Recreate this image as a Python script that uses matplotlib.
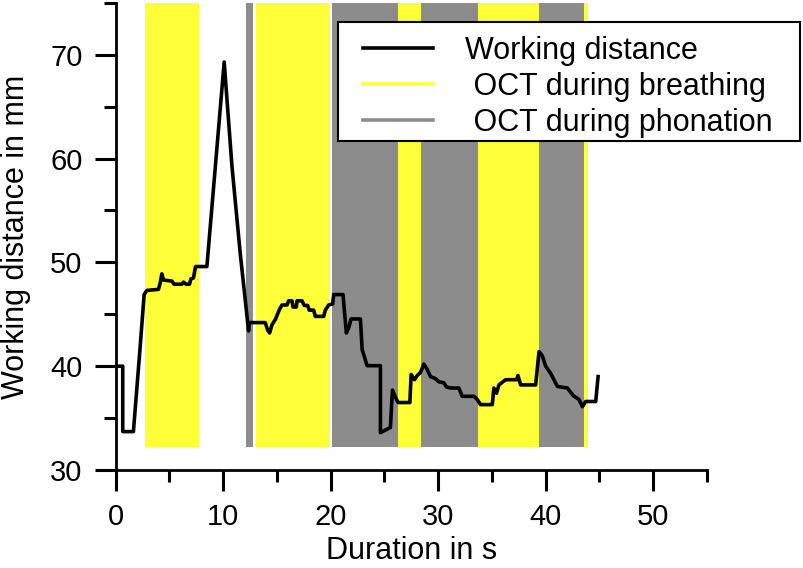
import matplotlib
matplotlib.use('Agg')
import matplotlib.pyplot as plt
from matplotlib.lines import Line2D
from matplotlib.patches import Rectangle
from matplotlib.ticker import MultipleLocator

plt.rcParams['font.family'] = ['Liberation Sans', 'DejaVu Sans']

# working distance trace (s, mm)
time_s = [0.0, 0.65, 0.65, 1.64, 2.2, 2.64, 2.89, 3.97, 4.13, 4.29, 4.44, 5.22, 5.43,
          6.15, 6.3, 6.55, 6.86, 6.99, 7.23, 7.42, 8.48, 10.09, 10.81, 11.58, 12.36,
          12.42, 13.91, 14.13, 14.32, 14.54, 14.85, 15.25, 15.47, 15.94, 16.09, 16.4,
          16.5, 16.8, 16.87, 17.33, 17.55, 17.86, 18.0, 18.42, 18.57, 19.35, 19.5,
          19.82, 20.19, 20.28, 21.15, 21.46, 21.68, 21.9, 22.77, 22.93, 23.23, 23.39,
          24.63, 24.63, 25.56, 25.75, 26.03, 26.28, 27.37, 27.49, 27.8, 28.05, 28.36,
          28.67, 28.98, 29.29, 29.76, 30.07, 30.53, 30.78, 31.16, 31.93, 32.09, 32.24,
          33.33, 33.64, 33.95, 35.04, 35.19, 35.44, 35.66, 36.28, 37.31, 37.43, 37.68,
          39.08, 39.39, 39.7, 40.01, 40.48, 40.78, 41.1, 42.03, 42.59, 43.11, 43.43,
          43.74, 44.67, 44.89]
distance_mm = [40.0, 40.0, 33.7, 33.7, 40.95, 46.9, 47.3, 47.4, 48.0, 48.9, 48.3, 48.2, 47.9,
               47.9, 48.1, 47.9, 47.9, 48.4, 48.5, 49.6, 49.6, 69.3, 59.3, 50.9, 43.4,
               44.2, 44.2, 43.5, 43.2, 44.0, 44.5, 45.5, 45.9, 45.9, 46.3, 46.3,
               45.7, 45.7, 46.3, 46.3, 45.85, 45.85, 45.4, 45.4, 44.8, 44.8, 45.4,
               45.9, 46.0, 46.9, 46.9, 43.2, 43.7, 44.55, 44.55, 41.6, 40.6, 40.05,
               40.05, 33.6, 34.1, 37.7, 37.0, 36.5, 36.5, 39.2, 38.7, 39.1, 39.4,
               40.2, 39.7, 39.0, 38.8, 38.5, 38.4, 38.0, 37.9, 37.9, 37.5, 37.1,
               37.1, 36.8, 36.3, 36.3, 37.9, 37.4, 38.2, 38.7, 38.7, 39.1, 38.2,
               38.2, 41.4, 41.0, 40.0, 39.3, 38.7, 38.05, 37.9, 37.15, 36.8, 36.1,
               36.6, 36.6, 39.0]

# OCT intervals (start, end) in s
breathing = [(2.73, 7.70), (13.05, 19.91), (26.24, 28.42), (33.73, 39.39), (43.58, 43.99)]
phonation = [(12.08, 12.77), (20.09, 26.24), (28.45, 33.73), (39.39, 43.58)]
band_low, band_high = 32.2, 75.0

yellow = '#ffff3a'
grey = '#8c8c8c'

fig = plt.figure(figsize=(8.04, 5.68), dpi=100)
ax = fig.add_axes([0.144, 0.1725, 0.735, 0.8225])

# shaded bands
for start, end in breathing:
    ax.bar(start, band_high - band_low, width=end - start, bottom=band_low,
           align='edge', color=yellow, linewidth=0)
for start, end in phonation:
    ax.bar(start, band_high - band_low, width=end - start, bottom=band_low,
           align='edge', color=grey, linewidth=0)

# working distance
ax.plot(time_s, distance_mm, color='black', linewidth=2.6)

ax.set_xlim(0, 55)
ax.set_ylim(30, 75)
ax.xaxis.set_major_locator(MultipleLocator(10))
ax.xaxis.set_minor_locator(MultipleLocator(5))
ax.yaxis.set_major_locator(MultipleLocator(10))
ax.yaxis.set_minor_locator(MultipleLocator(5))

for side in ['top', 'right']:
    ax.spines[side].set_visible(False)
for side in ['left', 'bottom']:
    ax.spines[side].set_linewidth(2.0)

ax.tick_params(which='major', direction='out', length=15, width=2.2,
               labelsize=21, pad=9)
ax.tick_params(which='minor', direction='out', length=8.5, width=2.2)

ax.set_xlabel('Duration in s', fontsize=22, labelpad=3)
ax.set_ylabel('Working distance in mm', fontsize=22)
ax.yaxis.set_label_coords(-0.143, 0.5)

# legend box drawn separately so the padding is wider than tall
box = Rectangle((0.4204, 0.7518), 0.5746, 0.2095, transform=fig.transFigure,
                facecolor='white', edgecolor='black', linewidth=1.5, zorder=4)
fig.add_artist(box)

handles = [Line2D([], [], color='black', linewidth=2.6),
           Line2D([], [], color=yellow, linewidth=2.6),
           Line2D([], [], color=grey, linewidth=2.6)]
labels = ['Working distance', ' OCT during breathing', ' OCT during phonation']
leg = fig.legend(handles, labels, loc='upper left', bbox_to_anchor=(0.4515, 0.937),
                 fontsize=22, frameon=False, handlelength=2.29, handletextpad=1.05,
                 labelspacing=0.2, borderpad=0, borderaxespad=0)
leg.set_zorder(5)

plt.savefig('out.png', dpi=100)
